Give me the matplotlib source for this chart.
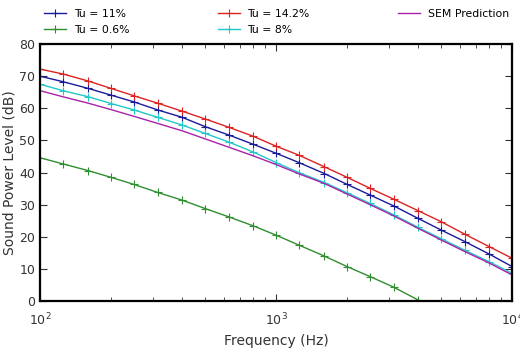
import matplotlib
matplotlib.use('Agg')
import matplotlib.pyplot as plt
import numpy as np

# one-third octave centre frequencies
freq = [100, 125, 160, 200, 250, 315, 400, 500, 630, 800, 1000,
        1250, 1600, 2000, 2500, 3150, 4000, 5000, 6300, 8000, 10000]

tu11 = [70.0, 68.3, 66.2, 64.1, 62.0, 59.5, 57.2, 54.3, 51.7, 48.8, 46.0,
        43.1, 39.7, 36.3, 33.0, 29.6, 25.7, 22.1, 18.5, 14.6, 10.7]
tu06 = [44.6, 42.7, 40.6, 38.5, 36.3, 33.8, 31.4, 28.8, 26.2, 23.4, 20.5,
        17.4, 14.0, 10.7, 7.6, 4.3, 0.3]
tu142 = [72.2, 70.7, 68.5, 66.2, 63.9, 61.6, 59.1, 56.7, 54.1, 51.3, 48.2,
         45.4, 41.8, 38.5, 35.1, 31.7, 28.1, 24.7, 20.8, 16.9, 13.3]
tu8 = [67.5, 65.5, 63.6, 61.5, 59.5, 57.2, 54.8, 52.2, 49.5, 46.4, 43.1,
       40.0, 36.9, 33.7, 30.4, 26.8, 22.9, 19.4, 15.8, 12.2, 8.6]
sem = [65.5, 63.6, 61.6, 59.6, 57.5, 55.3, 53.0, 50.5, 47.9, 45.2, 42.5,
       39.6, 36.6, 33.3, 30.0, 26.5, 22.6, 19.0, 15.4, 11.8, 8.1]

fig = plt.figure(figsize=(5.2, 3.5), dpi=100)
ax = fig.add_axes([0.077, 0.14, 0.908, 0.734])

mk = dict(marker='+', ms=6, mew=0.8, lw=1.0)
ax.plot(freq, tu11, color='#1a1a9a', label='Tu = 11%', **mk)
ax.plot(freq[:len(tu06)], tu06, color='#2f8f2f', label='Tu = 0.6%', **mk)
ax.plot(freq, tu142, color='#dd2222', label='Tu = 14.2%', **mk)
ax.plot(freq, tu8, color='#20c8c8', label='Tu = 8%', **mk)
ax.plot(freq, sem, color='#aa22aa', lw=1.0, label='SEM Prediction')

ax.set_xscale('log')
ax.set_xlim(100, 10000)
ax.set_ylim(0, 80)
ax.set_yticks(range(0, 81, 10))
ax.tick_params(which='both', direction='in', top=True, right=True, labelsize=9, colors='#333333')
ax.tick_params(which='major', length=5)
ax.tick_params(which='minor', length=3)
ax.tick_params(axis='x', pad=8)
for s in ax.spines.values():
    s.set_linewidth(1.6)
ax.set_xlabel('Frequency (Hz)', fontsize=10, color='#333333')
ax.set_ylabel('Sound Power Level (dB)', fontsize=10, color='#333333', labelpad=2)

fig.legend(loc='upper left', bbox_to_anchor=(0.072, 0.995), ncol=3, frameon=False,
           fontsize=7.8, handlelength=2.0, handletextpad=0.7, columnspacing=8.2,
           labelspacing=0.55, borderaxespad=0.25)

fig.savefig('out.png', dpi=100)
